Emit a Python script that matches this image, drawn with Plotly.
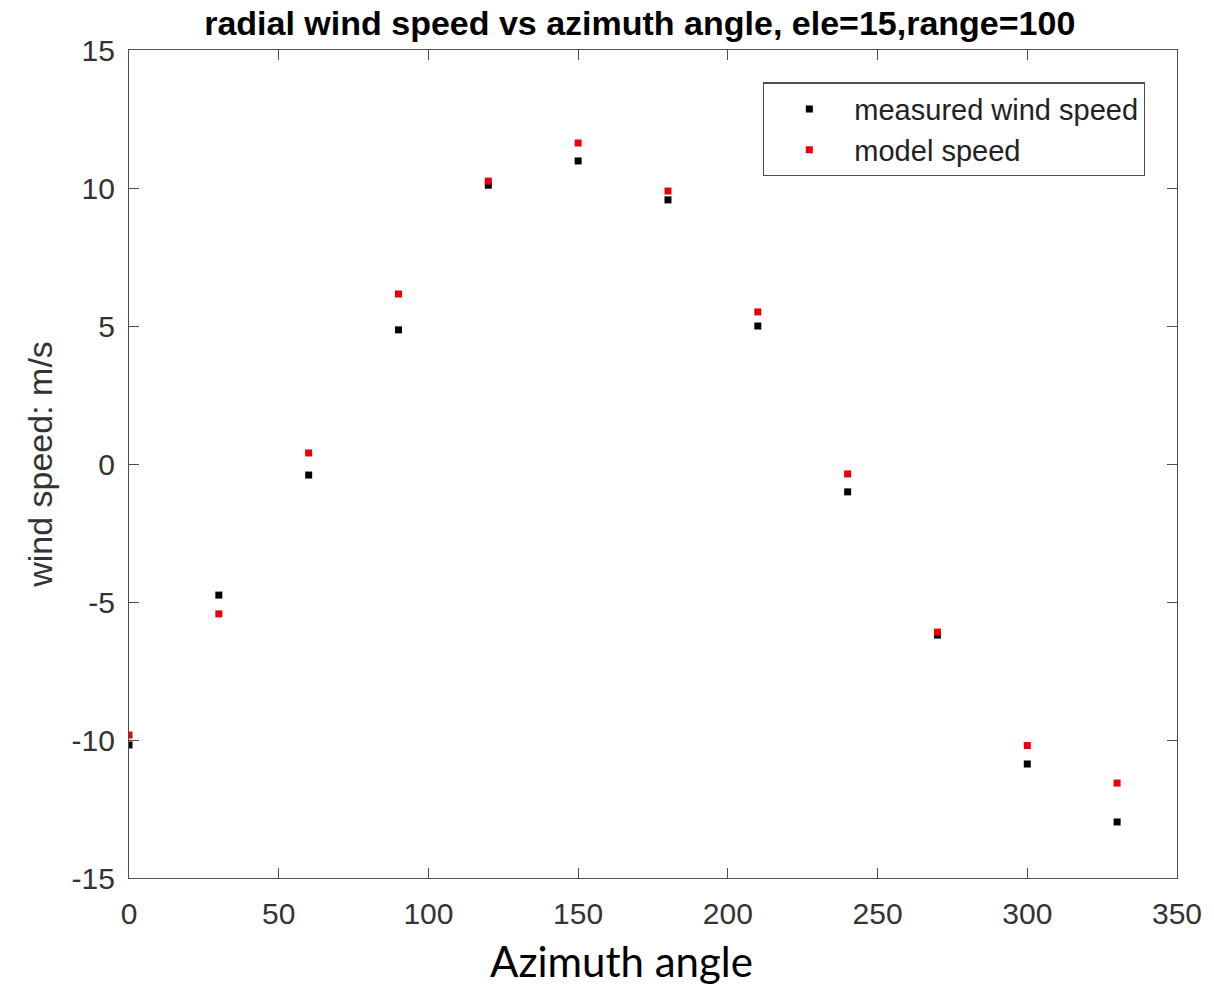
import plotly.graph_objects as go

azimuth = [0, 30, 60, 90, 120, 150, 180, 210, 240, 270, 300, 330]
measured = [-10.18, -4.75, -0.40, 4.86, 10.10, 10.98, 9.57, 5.00, -1.01, -6.20, -10.87, -12.97]
model = [-9.82, -5.43, 0.40, 6.16, 10.25, 11.63, 9.89, 5.51, -0.36, -6.09, -10.20, -11.56]
x_ticks = [0, 50, 100, 150, 200, 250, 300, 350]
y_ticks = [-15, -10, -5, 0, 5, 10, 15]
y_tick_labels = [str(v) for v in y_ticks]

fig = go.Figure()
fig.add_trace(go.Scatter(x=azimuth, y=measured, mode="markers", name="measured wind speed",
                         marker=dict(symbol="square", size=7, color="black")))
fig.add_trace(go.Scatter(x=azimuth, y=model, mode="markers", name="model speed",
                         marker=dict(symbol="square", size=7, color="#e8000b")))

axis_common = dict(showline=True, linecolor="#4d4d4d", linewidth=1.3, mirror="allticks",
                   ticks="inside", ticklen=10, tickcolor="#4d4d4d", showgrid=False, zeroline=False,
                   tickfont=dict(family="Liberation Sans, Arial", size=30, color="#333333"))

fig.update_layout(
    width=1214, height=991,
    margin=dict(l=129, r=35, t=50, b=113),
    paper_bgcolor="white", plot_bgcolor="white",
    title=dict(text="<b>radial wind speed vs azimuth angle, ele=15,range=100</b>",
               font=dict(family="Liberation Sans, Arial", size=34, color="black"),
               x=0.527, xanchor="center", y=0.977, yanchor="middle"),
    xaxis=dict(range=[0, 350], tickvals=x_ticks, ticklabelstandoff=9, **axis_common),
    yaxis=dict(range=[-15, 15], tickvals=y_ticks, ticktext=y_tick_labels, ticklabelstandoff=7,
               **axis_common,
               title=dict(text="wind speed: m/s", font=dict(family="Liberation Sans, Arial", size=34, color="#333333"),
                          standoff=8)),
    legend=dict(x=0.9695, xanchor="right", y=0.961, yanchor="top",
                bordercolor="#4d4d4d", borderwidth=1.3, bgcolor="white",
                font=dict(family="Liberation Sans, Arial", size=29, color="#222222"),
                itemwidth=80, tracegroupgap=0),
    showlegend=True,
    annotations=[dict(text="Azimuth angle", xref="paper", yref="paper", x=0.4695, y=-0.1,
                      xanchor="center", yanchor="middle", showarrow=False,
                      font=dict(family="Lato, Open Sans", size=42, color="black"))],
)

fig.write_html("out.html")
